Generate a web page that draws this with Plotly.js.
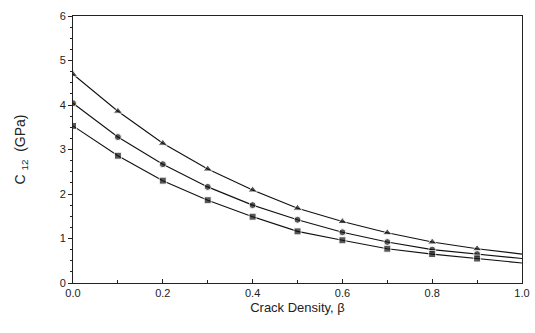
<!DOCTYPE html>
<html>
<head>
<meta charset="utf-8">
<script src="https://cdn.plot.ly/plotly-3.0.1.min.js"></script>
<style>html,body{margin:0;padding:0;background:#fff;}#chart{width:535px;height:333px;}</style>
</head>
<body>
<div id="chart"></div>
<script>
var beta = [0.0, 0.1, 0.2, 0.3, 0.4, 0.5, 0.6, 0.7, 0.8, 0.9, 1.0];
var triangleSeries = [4.69, 3.86, 3.14, 2.56, 2.09, 1.68, 1.38, 1.13, 0.92, 0.77, 0.65];
var circleSeries   = [4.04, 3.28, 2.67, 2.16, 1.75, 1.42, 1.14, 0.92, 0.75, 0.65, 0.55];
var squareSeries   = [3.53, 2.86, 2.30, 1.86, 1.49, 1.16, 0.96, 0.77, 0.65, 0.55, 0.45];
var xTickVals = [0, 0.2, 0.4, 0.6, 0.8, 1.0];
var xTickText = ['0.0', '0.2', '0.4', '0.6', '0.8', '1.0'];
var yTickVals = [0, 1, 2, 3, 4, 5, 6];

function sizes(n, s) { var a = []; for (var i = 0; i < n; i++) a.push(i === n - 1 ? 0 : s); return a; }

function mk(y, sym, sz) {
  return {
    x: beta, y: y, type: 'scatter', mode: 'lines+markers',
    line: {color: '#111', width: 1.1},
    marker: {symbol: sym, color: '#111', size: sizes(beta.length, sz)},
    showlegend: false, hoverinfo: 'skip'
  };
}

var data = [mk(triangleSeries, 'triangle-up', 8), mk(circleSeries, 'circle', 7), mk(squareSeries, 'square', 7)];

var fontFam = 'Liberation Sans, Arial, sans-serif';
var axisCommon = {
  showgrid: false, zeroline: false, showline: true, linecolor: '#222', linewidth: 1,
  mirror: true, tickwidth: 1, tickcolor: '#222',
  tickfont: {family: fontFam, size: 11, color: '#222'}
};

var layout = {
  width: 535, height: 333,
  margin: {l: 73, r: 13, t: 16, b: 50},
  paper_bgcolor: '#fff', plot_bgcolor: '#fff',
  xaxis: Object.assign({}, axisCommon, {
    range: [0, 1], tickvals: xTickVals, ticktext: xTickText,
    ticks: 'inside', ticklen: 4,
    minor: {ticks: 'inside', ticklen: 3, tickcolor: '#222', dtick: 0.1},
    title: {text: 'Crack Density, β', font: {family: fontFam, size: 13, color: '#222'}, standoff: 4}
  }),
  yaxis: Object.assign({}, axisCommon, {
    range: [0, 6], tickvals: yTickVals,
    ticks: 'outside', ticklen: 4,
    minor: {ticks: 'outside', ticklen: 2, tickcolor: '#222', dtick: 0.25},
    title: {text: 'C <sub>12</sub>  (GPa)', font: {family: fontFam, size: 14, color: '#222'}, standoff: 30}
  })
};

Plotly.newPlot('chart', data, layout, {displayModeBar: false, staticPlot: true});
</script>
</body>
</html>
